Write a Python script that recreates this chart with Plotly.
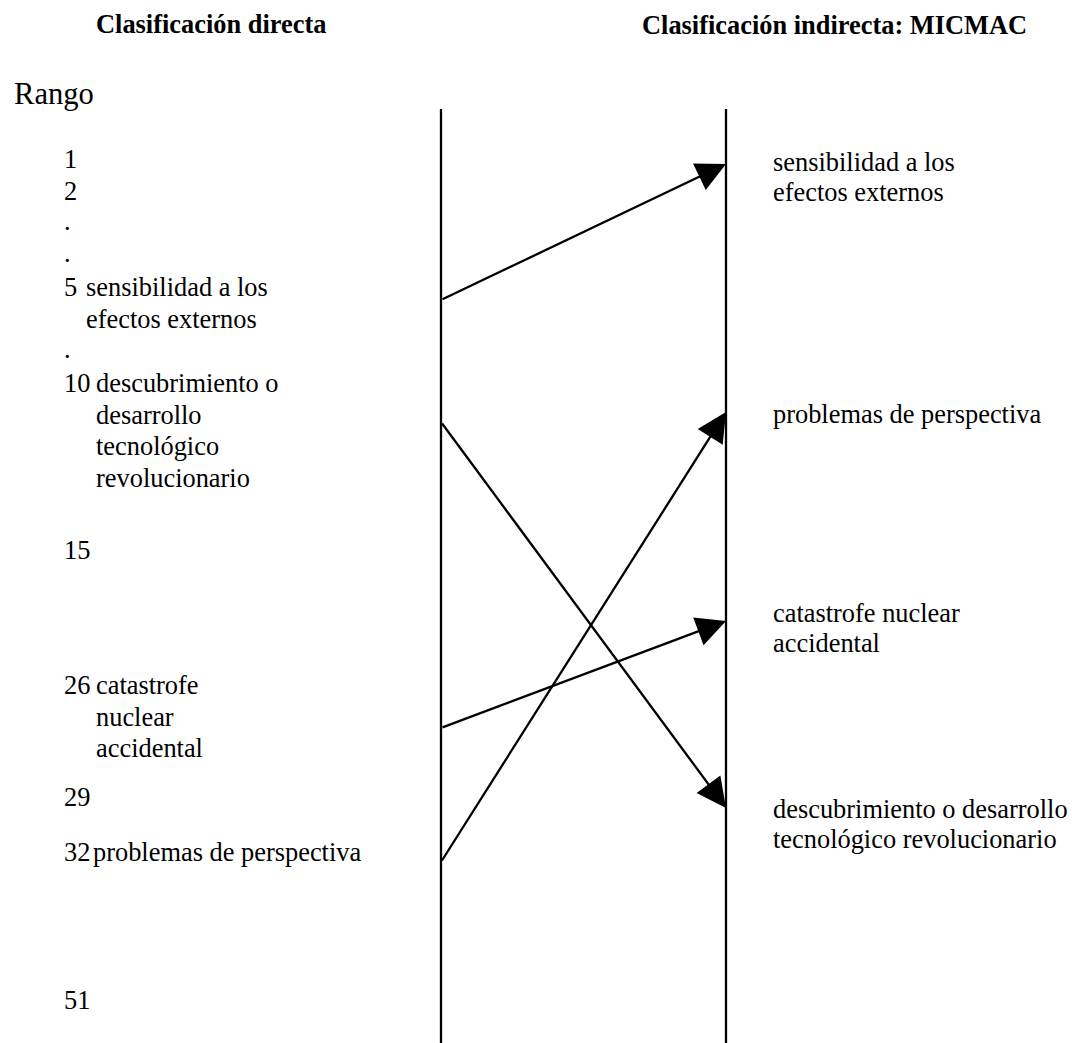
import plotly.graph_objects as go

# ---------------- data ----------------
title_direct = "Clasificación directa"
title_indirect = "Clasificación indirecta: MICMAC"
rank_title = "Rango"
rank_labels = ["1", "2", ".", ".", "5", ".", "10", "15", "26", "29", "32", "51"]
variables = ["sensibilidad a los efectos externos",
             "descubrimiento o desarrollo tecnológico revolucionario",
             "catastrofe nuclear accidental",
             "problemas de perspectiva"]
direct_rank = [5, 10, 26, 32]        # rank in direct classification
indirect_rank = [1, 4, 3, 2]         # order in MICMAC (indirect) classification
left_wrap = [["sensibilidad a los", "efectos externos"],
             ["descubrimiento o", "desarrollo", "tecnológico", "revolucionario"],
             ["catastrofe", "nuclear", "accidental"],
             ["problemas de perspectiva"]]
right_wrap = [["sensibilidad a los", "efectos externos"],
              ["descubrimiento o desarrollo", "tecnológico revolucionario"],
              ["catastrofe nuclear", "accidental"],
              ["problemas de perspectiva"]]

# ---------------- layout / positions ----------------
W, H = 1072, 1043
FONT = "Times New Roman, Liberation Serif, serif"
BODY = 26.4
TITLE = 26.4
RANGO = 30.6
X_NUM = 63
X_LEFT_AXIS = 441
X_RIGHT_AXIS = 726
X_RIGHT_TEXT = 772
AXIS_TOP = 109
LINE_W = 2.3
rank_baseline = [168, 200, 230, 262, 296, 358, 392, 559, 694, 806, 861, 1009]
label_x = {5: 85, 10: 95, 26: 95, 32: 92}
LEFT_STEP = 31.5
tail_y = {5: 300, 10: 422, 26: 728, 32: 862}
right_slot_baseline = {1: 171, 2: 423, 3: 622, 4: 818}
RIGHT_STEP = 30
tip_y = {1: 164, 2: 412, 3: 621, 4: 808}

fig = go.Figure()


def txt(x, baseline, s, size, xanchor="left"):
    fig.add_annotation(x=x - (1 if xanchor == "left" else -1), y=baseline - 0.3375 * size,
                       text=s, xref="x", yref="y",
                       xanchor=xanchor, yanchor="middle", showarrow=False,
                       font=dict(family=FONT, size=size, color="black"))


# titles
txt(95, 33, "<b>" + title_direct + "</b>", TITLE)
txt(1028, 34, "<b>" + title_indirect + "</b>", TITLE, xanchor="right")
txt(13, 104, rank_title, RANGO)

# rank numbers
for lab, b in zip(rank_labels, rank_baseline):
    txt(X_NUM, b, lab, BODY)

# left labels
for i, r in enumerate(direct_rank):
    b0 = rank_baseline[rank_labels.index(str(r))]
    for k, line in enumerate(left_wrap[i]):
        txt(label_x[r], b0 + k * LEFT_STEP, line, BODY)

# right labels
for i, r in enumerate(indirect_rank):
    b0 = right_slot_baseline[r]
    for k, line in enumerate(right_wrap[i]):
        txt(X_RIGHT_TEXT, b0 + k * RIGHT_STEP, line, BODY)

# vertical axes
for xa in (X_LEFT_AXIS, X_RIGHT_AXIS):
    fig.add_shape(type="line", xref="x", yref="y", x0=xa, x1=xa, y0=AXIS_TOP, y1=H,
                  line=dict(color="black", width=LINE_W))

# arrows
for i in range(len(variables)):
    fig.add_annotation(x=X_RIGHT_AXIS, y=tip_y[indirect_rank[i]],
                       ax=X_LEFT_AXIS, ay=tail_y[direct_rank[i]],
                       xref="x", yref="y", axref="x", ayref="y",
                       text="", showarrow=True, arrowhead=2, arrowsize=5.9 / LINE_W,
                       arrowwidth=LINE_W, arrowcolor="black", standoff=0, startstandoff=0,
                       font=dict(size=1))

fig.update_layout(width=W, height=H, margin=dict(l=0, r=0, t=0, b=0),
                  paper_bgcolor="white", plot_bgcolor="white", showlegend=False,
                  xaxis=dict(range=[0, W], visible=False, fixedrange=True),
                  yaxis=dict(range=[H, 0], visible=False, fixedrange=True))

fig.write_html("out.html", config={"displayModeBar": False},
               post_script="document.body.style.margin='0';document.body.style.overflow='hidden';")
